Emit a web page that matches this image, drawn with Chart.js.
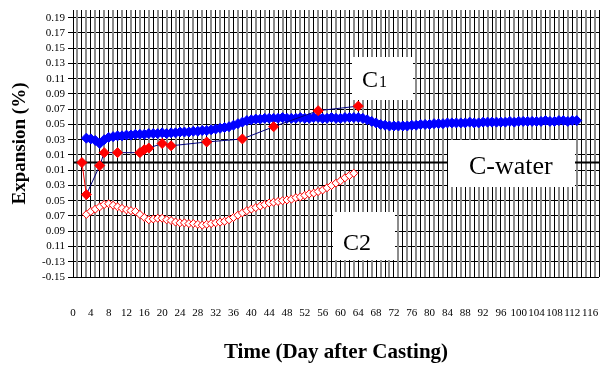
<!DOCTYPE html>
<html>
<head>
<meta charset="utf-8">
<script src="https://cdn.jsdelivr.net/npm/chart.js@4"></script>
<style>
    html, body { margin: 0; padding: 0; background: #fff; }
    #wrap { width: 605px; height: 365px; position: relative; }
</style>
</head>
<body>
<div id="wrap"><canvas id="chart"></canvas></div>
<script>
// ---- data ----
// blue thick series, one value per day starting at day 3
const blueStartDay = 3;
const blueValues = [
    0.032, 0.031, 0.029, 0.025, 0.030, 0.033, 0.034, 0.035, 0.035, 0.036,
    0.036, 0.037, 0.037, 0.037, 0.038, 0.038, 0.038, 0.039, 0.038, 0.039,
    0.039, 0.040, 0.040, 0.040, 0.041, 0.041, 0.042, 0.042, 0.043, 0.044,
    0.045, 0.046, 0.047, 0.049, 0.051, 0.053, 0.055, 0.056, 0.057, 0.057,
    0.058, 0.058, 0.058, 0.058, 0.059, 0.058, 0.058, 0.058, 0.059, 0.058,
    0.058, 0.059, 0.059, 0.058, 0.058, 0.059, 0.058, 0.058, 0.059, 0.059,
    0.059, 0.059, 0.058, 0.056, 0.054, 0.052, 0.050, 0.049, 0.048, 0.048,
    0.048, 0.048, 0.048, 0.049, 0.049, 0.050, 0.050, 0.050, 0.051, 0.051,
    0.051, 0.052, 0.052, 0.052, 0.052, 0.052, 0.053, 0.052, 0.052, 0.053,
    0.053, 0.053, 0.053, 0.053, 0.053, 0.054, 0.053, 0.054, 0.054, 0.054,
    0.054, 0.054, 0.054, 0.055, 0.054, 0.054, 0.055, 0.055, 0.054, 0.055,
    0.055
];

// C2 open red diamonds, one value per day starting at day 3
const c2StartDay = 3;
const c2Values = [
    -0.068, -0.064, -0.061, -0.058, -0.055, -0.054, -0.056, -0.058, -0.060, -0.062,
    -0.063, -0.064, -0.068, -0.072, -0.075, -0.074, -0.073, -0.073, -0.075, -0.076,
    -0.078, -0.079, -0.079, -0.080, -0.080, -0.081, -0.082, -0.081, -0.080, -0.079,
    -0.078, -0.077, -0.075, -0.072, -0.069, -0.066, -0.063, -0.061, -0.059, -0.057,
    -0.055, -0.053, -0.052, -0.051, -0.050, -0.049, -0.048, -0.046, -0.045, -0.043,
    -0.041, -0.040, -0.038, -0.036, -0.033, -0.030, -0.027, -0.024, -0.020, -0.017,
    -0.014
];

// C1 solid red diamonds (measured on selected days)
const c1Days   = [2, 3, 6, 7, 10, 15, 16, 17, 20, 22, 30, 38, 45, 55, 64];
const c1Values = [0.000, -0.042, -0.004, 0.013, 0.013, 0.013, 0.017, 0.019, 0.025, 0.022, 0.027, 0.031, 0.047, 0.068, 0.074];

// C-water reference
const waterDays   = [0, 118];
const waterValues = [0, 0];

// axes
const yTickValues = [0.19, 0.17, 0.15, 0.13, 0.11, 0.09, 0.07, 0.05, 0.03, 0.01,
                     -0.01, -0.03, -0.05, -0.07, -0.09, -0.11, -0.13, -0.15];
const yTickLabels = ['0.19', '0.17', '0.15', '0.13', '0.11', '0.09', '0.07', '0.05', '0.03', '0.01',
                     '0.01', '0.03', '0.05', '0.07', '0.09', '0.11', '-0.13', '-0.15'];
const xLabelStep = 4;
const xLastLabel = 116;
const xMax = 118;

// ---- build points ----
const bluePoints = blueValues.map((v, i) => ({ x: blueStartDay + i, y: v }));
const c2Points = c2Values.map((v, i) => ({ x: c2StartDay + i, y: v }));
const c1Points = c1Days.map((d, i) => ({ x: d, y: c1Values[i] }));
const waterPoints = waterDays.map((d, i) => ({ x: d, y: waterValues[i] }));

const SERIF = "'Liberation Serif', 'Times New Roman', serif";

// text boxes drawn on top of the plot
const notes = [
    { box: [352, 57, 61, 43], parts: [{ t: 'C', size: 24, x: 362, y: 87 }, { t: '1', size: 16, x: 379, y: 87 }] },
    { box: [448, 140, 127, 47], parts: [{ t: 'C-water', size: 26, x: 469, y: 174 }] },
    { box: [333, 212, 62, 48], parts: [{ t: 'C2', size: 24, x: 343, y: 250 }] }
];

const notesPlugin = {
    id: 'notes',
    afterDatasetsDraw(chart) {
        const ctx = chart.ctx;
        ctx.save();
        notes.forEach(n => {
            ctx.fillStyle = '#fff';
            ctx.fillRect(n.box[0], n.box[1], n.box[2], n.box[3]);
            ctx.fillStyle = '#000';
            ctx.textBaseline = 'alphabetic';
            ctx.textAlign = 'left';
            n.parts.forEach(p => {
                ctx.font = p.size + 'px ' + SERIF;
                ctx.fillText(p.t, p.x, p.y);
            });
        });
        ctx.restore();
    }
};

new Chart(document.getElementById('chart'), {
    type: 'line',
    data: {
        datasets: [
            {
                label: 'C1',
                data: c1Points,
                borderColor: '#000080',
                borderWidth: 1,
                segment: { borderColor: c => c.p0DataIndex === 0 ? '#ff0000' : '#000080' },
                pointStyle: 'rectRot',
                pointRadius: 5,
                pointBackgroundColor: '#ff0000',
                pointBorderColor: '#ff0000',
                pointBorderWidth: 1,
                tension: 0
            },
            {
                label: 'Blue',
                data: bluePoints,
                borderColor: '#0000ff',
                borderWidth: 2,
                pointStyle: 'rectRot',
                pointRadius: 5,
                pointBackgroundColor: '#0000ff',
                pointBorderColor: '#0000ff',
                pointBorderWidth: 1,
                tension: 0
            },
            {
                label: 'C2',
                data: c2Points,
                borderColor: '#ff0000',
                borderWidth: 1,
                pointStyle: 'rectRot',
                pointRadius: 4,
                pointBackgroundColor: '#ffffff',
                pointBorderColor: '#ff0000',
                pointBorderWidth: 1,
                tension: 0
            },
            {
                label: 'C-water',
                data: waterPoints,
                borderColor: '#000000',
                borderWidth: 2,
                pointRadius: 0,
                tension: 0
            }
        ]
    },
    options: {
        responsive: true,
        maintainAspectRatio: false,
        animation: false,
        events: [],
        layout: { padding: { top: 10, right: 6, left: 0, bottom: 0 } },
        plugins: {
            legend: { display: false },
            tooltip: { enabled: false }
        },
        scales: {
            x: {
                type: 'linear',
                min: 0,
                max: xMax,
                afterBuildTicks: scale => {
                    const t = [];
                    for (let d = 0; d <= xMax; d++) t.push({ value: d });
                    scale.ticks = t;
                },
                afterFit: scale => { scale.height = 88; },
                grid: {
                    z: -1,
                    drawTicks: true,
                    tickLength: 30,
                    tickColor: 'rgba(0,0,0,0)',
                    color: c => c.index % 2 === 0 ? '#000000' : '#8c8c8c',
                    lineWidth: c => c.index % 2 === 0 ? 1 : 2
                },
                border: { display: false },
                ticks: {
                    autoSkip: false,
                    maxRotation: 0,
                    padding: 0,
                    color: '#000',
                    font: { family: SERIF, size: 11 },
                    callback: v => (v % xLabelStep === 0 && v <= xLastLabel) ? String(v) : ''
                },
                title: {
                    display: true,
                    text: 'Time (Day after Casting)',
                    color: '#000',
                    font: { family: SERIF, size: 21, weight: 'bold' },
                    padding: { top: 0, bottom: 0 }
                }
            },
            y: {
                min: -0.15,
                max: 0.20,
                afterBuildTicks: scale => {
                    scale.ticks = yTickValues.map(v => ({ value: v }));
                },
                afterFit: scale => { scale.width = 73; },
                grid: {
                    z: -2,
                    color: '#000000',
                    lineWidth: 1,
                    tickLength: 5
                },
                border: { display: true, color: '#000', width: 1 },
                ticks: {
                    autoSkip: false,
                    padding: 3,
                    color: '#000',
                    font: { family: SERIF, size: 11 },
                    callback: (v, i) => yTickLabels[i]
                },
                title: {
                    display: true,
                    text: 'Expansion (%)',
                    color: '#000',
                    font: { family: SERIF, size: 19, weight: 'bold' },
                    padding: { top: 9, bottom: 0 }
                }
            }
        }
    },
    plugins: [notesPlugin]
});
</script>
</body>
</html>
